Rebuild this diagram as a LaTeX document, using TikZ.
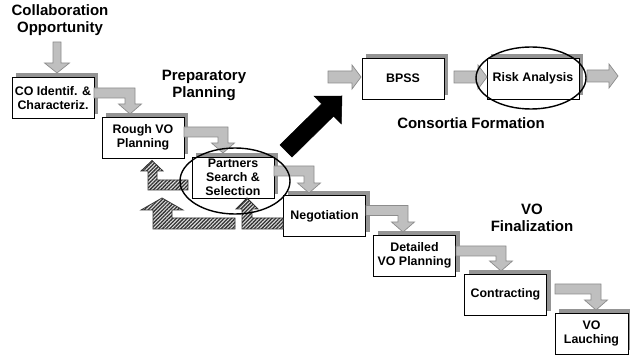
\documentclass[tikz,border=0pt]{standalone}
\usepackage{fontspec}
\setmainfont{Liberation Sans}
\usetikzlibrary{shadows,shapes.geometric,patterns.meta}
\begin{document}
\begin{tikzpicture}[x=1pt,y=-1pt,
  box/.style={draw=black, line width=0.9pt, fill=white, minimum width=82pt, minimum height=41pt,
    inner sep=1pt, align=center, font=\fontsize{12.4}{14}\selectfont\bfseries,
    drop shadow={shadow xshift=4pt, shadow yshift=4pt, fill=black!42, opacity=1}},
  head/.style={align=center, inner sep=0pt, font=\fontsize{15}{17}\selectfont\bfseries},
  garr/.style={fill=black!25, draw=black!45, line width=0.7pt, line join=miter},
  harr/.style={preaction={fill=black!12}, pattern={Lines[angle=45,distance=2.6pt,line width=1.3pt]},
    pattern color=black!80, draw=black!80, line width=0.8pt},
  barr/.style={fill=black, draw=black, line width=0.5pt},
  ring/.style={ellipse, draw=black, line width=1.4pt, inner sep=0pt, fill=none}
]
\useasboundingbox (0,0) rectangle (630,358);

% block arrow macros
\newcommand\elbowarr[4]{% x0, y centre of shaft, x of vertical, y tip
  \filldraw[garr] (#1,{#2-5}) -- ({#3+5},{#2-5}) -- ({#3+5},{#4-10}) -- ({#3+11.5},{#4-10})
    -- (#3,#4) -- ({#3-11.5},{#4-10}) -- ({#3-5},{#4-10}) -- ({#3-5},{#2+5}) -- (#1,{#2+5}) -- cycle;}
\newcommand\rightarr[3]{% x0, x tip, y centre
  \filldraw[garr] (#1,{#3-6}) -- ({#2-9},{#3-6}) -- ({#2-9},{#3-12}) -- (#2,#3)
    -- ({#2-9},{#3+12}) -- ({#2-9},{#3+6}) -- (#1,{#3+6}) -- cycle;}

% headings
\node[head] (collab) at (60,20.5) {Collaboration\\Opportunity};
\node[head] (prep) at (204,85.5) {Preparatory\\Planning};
\node[head] (consort) at (471,123) {Consortia Formation};
\node[head] (fin) at (532,217.5) {VO\\Finalization};

% boxes
\node[box] (co) at (53,98) {CO Identif. \&\\Characteriz.};
\node[box] (rough) at (143,137.5) {Rough VO\\Planning};
\node[box] (partners) at (233,177.5) {Partners\\Search \&\\Selection};
\node[box] (neg) at (324.5,216) {Negotiation};
\node[box] (det) at (414.5,255.5) {Detailed\\VO Planning};
\node[box] (contr) at (505.5,294.5) {Contracting};
\node[box, minimum width=73pt] (vol) at (591.5,333.5) {VO\\Lauching};
\node[box] (bpss) at (403,78.5) {BPSS};
\node[box, minimum width=92pt] (risk) at (533,78.5) {Risk Analysis};

% down arrow from Collaboration Opportunity
\filldraw[garr] (53,42) -- (61,42) -- (61,63) -- (69.5,63) -- (57,73) -- (44.5,63) -- (53,63) -- (53,42) -- cycle;

% elbow arrows
\elbowarr{94}{93}{130}{114}
\elbowarr{184}{132}{223}{153}
\elbowarr{274}{171}{309}{193}
\elbowarr{366}{210.5}{403}{232}
\elbowarr{456}{251}{501}{271}
\elbowarr{555}{289}{596}{310}

% horizontal arrows
\rightarr{328}{361}{77}
\rightarr{454}{487}{77}
\rightarr{587}{618}{76}

% hatched feedback arrows
\draw[harr] (188,180) -- (157,180) -- (157,171) -- (163,171) -- (152,160.5) -- (141,171)
  -- (148,171) -- (148,190) -- (188,190) -- cycle;
\draw[harr] (235,218) -- (172,218) -- (172,210) -- (183,210) -- (162,198) -- (141,210)
  -- (153,210) -- (153,229) -- (235,229) -- cycle;
\draw[harr] (283,218) -- (252,218) -- (252,209) -- (258,209) -- (247,198) -- (236,209)
  -- (242,209) -- (242,229) -- (283,229) -- cycle;

% black arrow
\filldraw[barr] (280,144.9) -- (321.7,103.9) -- (314,96.1) -- (342,96) -- (341.3,123.9)
  -- (333.6,116.1) -- (292,157.1) -- cycle;

% ellipses
\node[ring, minimum width=110pt, minimum height=66pt] (pring) at (235,181) {};
\node[ring, minimum width=110pt, minimum height=62pt] (rring) at (531,78) {};
\end{tikzpicture}
\end{document}
